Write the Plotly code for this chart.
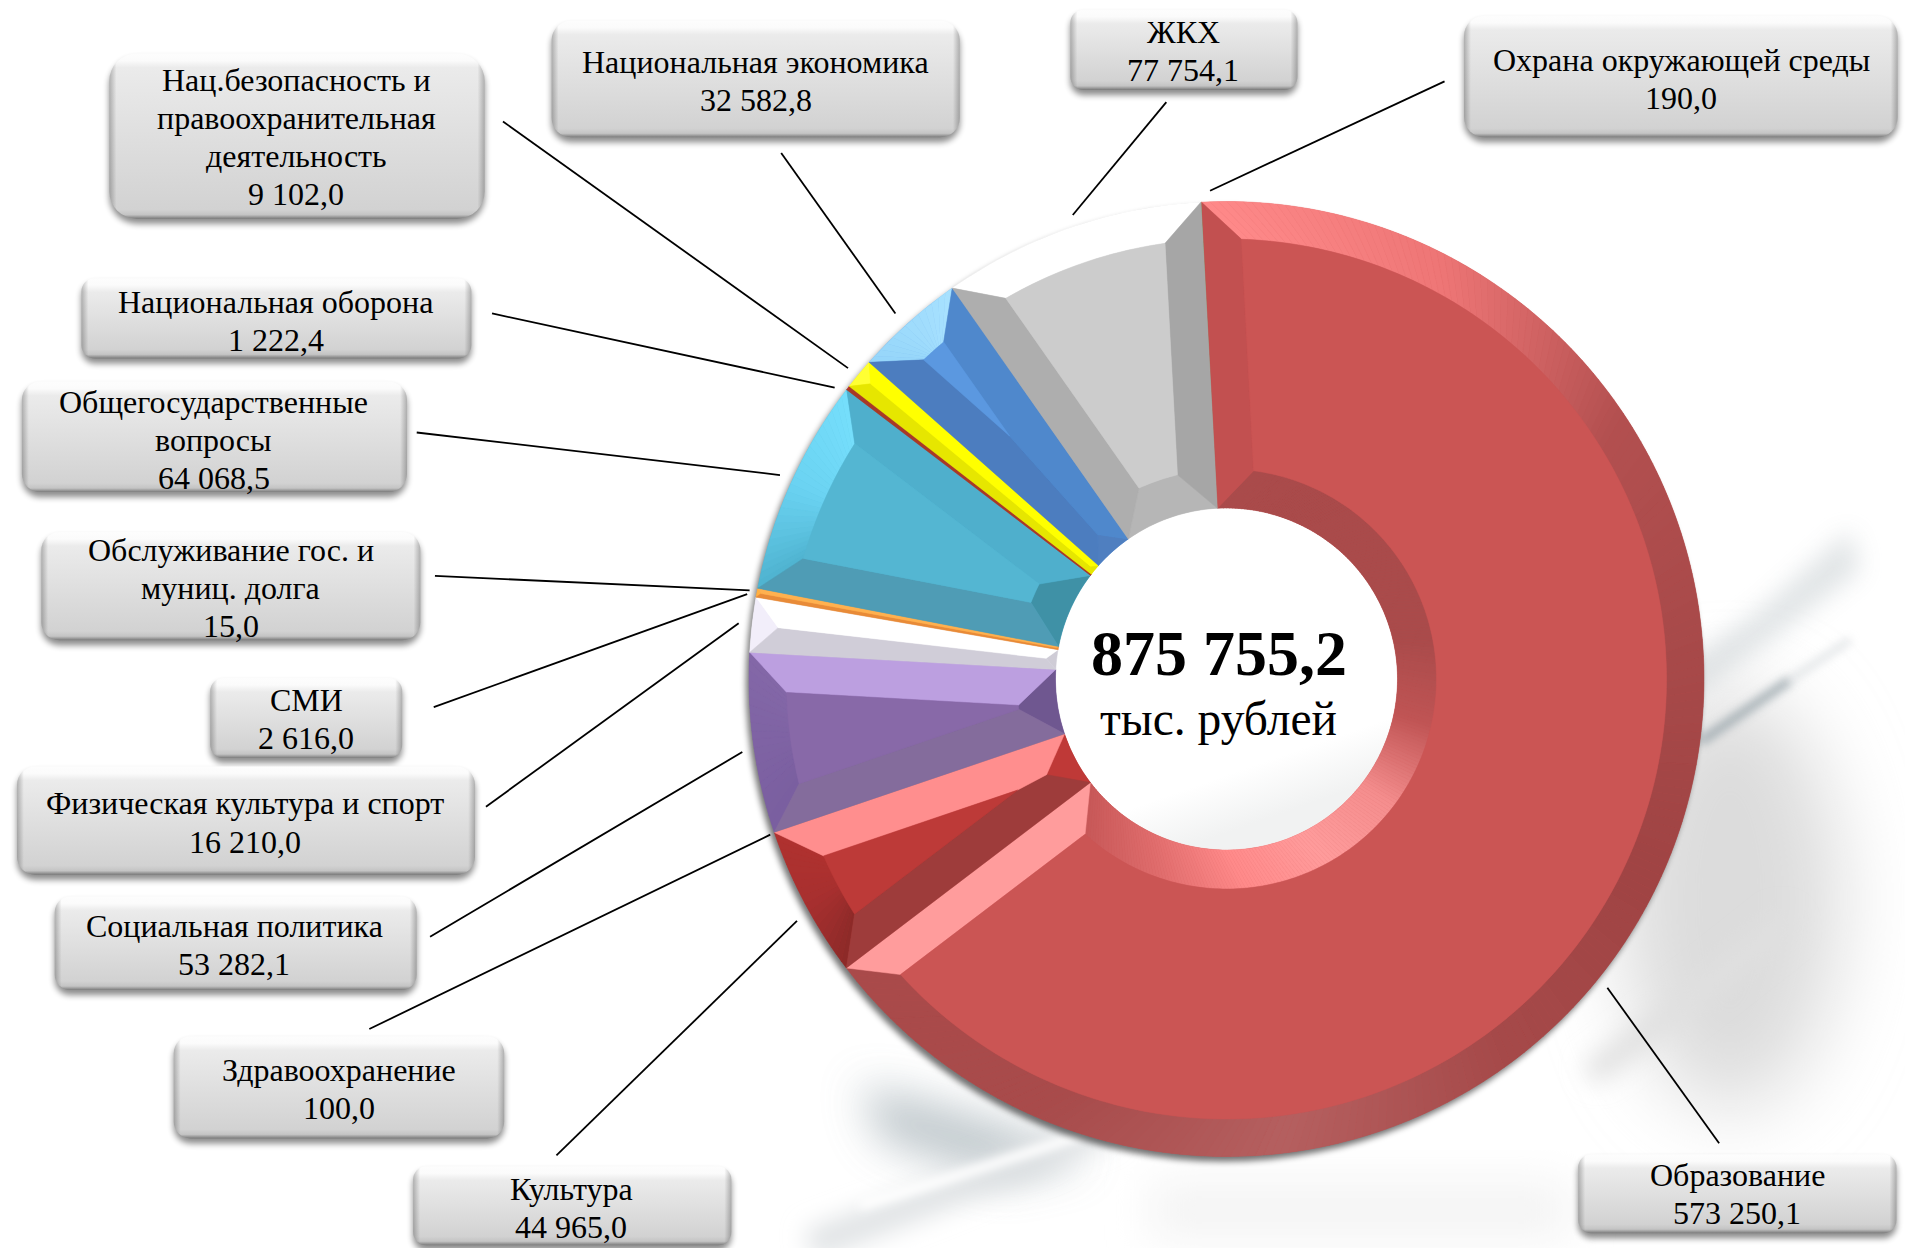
import base64
import math
import plotly.graph_objects as go

W, H = 1905, 1248
S = 1905 / 1568  # label layout below was measured on the 1568-wide view

# ---- data ----
categories = ["Образование", "Культура", "Здравоохранение", "Социальная политика",
              "Физическая культура и спорт", "СМИ", "Обслуживание гос. и муниц. долга",
              "Общегосударственные вопросы", "Национальная оборона",
              "Нац.безопасность и правоохранительная деятельность",
              "Национальная экономика", "ЖКХ", "Охрана окружающей среды"]
values = [573250.1, 44965.0, 100.0, 53282.1, 16210.0, 2616.0, 15.0,
          64068.5, 1222.4, 9102.0, 32582.8, 77754.1, 190.0]
total_label = "875 755,2"
unit_label = "тыс. рублей"
wrapped_names = ["Образование", "Культура", "Здравоохранение", "Социальная политика",
                 "Физическая культура и спорт", "СМИ", "Обслуживание гос. и<br>муниц. долга",
                 "Общегосударственные<br>вопросы", "Национальная оборона",
                 "Нац.безопасность и<br>правоохранительная<br>деятельность",
                 "Национальная экономика", "ЖКХ", "Охрана окружающей среды"]

# ---- slice styling: face, outer band, inner band, start side, end side ----
face_colors = ["#CB5554", "#BD3A38", "#70AD47", "#8869A8", "#FFFFFF", "#F79646", "#FFFFFF",
               "#54B6D2", "#C0392B", "#FFFF00", "#5B98E0", "#CCCCCC", "#70AD47"]
outer_colors = [["#FF8A8A", "#EE7676", "#B35050", "#A84A4A", "#A04444", "#A64A4A", "#B56060", "#A84C4C", "#AA4A4A"],
                ["#8C2A28", "#A83030", "#B0322F"], "#70AD47", ["#7A5FA0", "#8468A8"], "#F2EEFA", "#FFB040",
                "#FFFFFF", ["#4FB3D0", "#6BD3F2", "#76DFFC"], "#C0392B", "#FFFF33",
                ["#96D6FA", "#A8E2FF"], "#FFFFFF", "#70AD47"]
inner_colors = [["#A94B4B", "#A94B4B", "#A94B4B", "#A94B4B", "#C05555", "#F58E8E", "#FF9C9C", "#FF8A8A", "#E06D6D", "#C75858"],
                "#BF3937", "#70AD47", "#6F5790", "#CFCCD6", "#E88B38", "#FFFFFF", "#3F91A6",
                "#A83A28", "#E6E600", "#4F7FC0", "#B6B6B6", "#70AD47"]
start_colors = ["#C25050", "#9E3C3B", "#70AD47", "#846C9C", "#D0CDD8", "#E88B38", "#FFFFFF",
                "#4F9CB5", "#A83A28", "#E6E600", "#4C7DBF", "#AEAEAE", "#70AD47"]
end_colors = ["#FF9C9C", "#FF8E8E", "#70AD47", "#BC9FE0", "#FFFFFF", "#FFB14F", "#FFFFFF",
              "#4FAFCC", "#A83A28", "#FFFF00", "#4F88CC", "#A6A6A6", "#70AD47"]

# ---- label boxes on the 1568-wide view: left, right, top, bottom, text centre x, text centre y ----
box_order = [9, 10, 11, 12, 8, 7, 6, 5, 4, 3, 2, 1, 0]
box_left = [90, 454, 881, 1205, 67, 18, 34, 173, 14, 45, 143, 340, 1299]
box_right = [399, 790, 1068, 1562, 388, 335, 346, 331, 391, 343, 415, 602, 1561]
box_top = [44, 17, 8, 13, 229, 314, 438, 558, 631, 738, 853, 960, 950]
box_bottom = [180, 113, 74, 113, 295, 405, 527, 624, 720, 815, 937, 1025, 1015]
text_x = [244, 622, 974, 1384, 227, 176, 190, 252, 202, 193, 279, 470, 1430]
text_y = [113, 67, 42, 65, 264, 362, 484, 592, 677, 778, 896, 994, 983]
lead_x0 = [414, 643, 960, 1189, 405, 343, 358, 357, 400, 354, 304, 458, 1415]
lead_y0 = [100, 126, 84, 67, 258, 356, 474, 582, 664, 771, 847, 951, 941]
lead_x1 = [698, 737, 883, 996, 687, 642, 617, 615, 608, 611, 634, 656, 1323]
lead_y1 = [303, 258, 177, 157, 319, 391, 486, 489, 513, 619, 687, 758, 813]

CX, CY, R_O, R_I = 1226.5, 679.0, 477.5, 171.0
R_OF, R_IF, BEVEL = 440.0, 210.0, 38.0
ROTATION = -3.0
LINE_PITCH = 31.3


def pol(r, deg):
    a = math.radians(deg)
    return CX + r * math.sin(a), CY - r * math.cos(a)


def arc(r, a, b, step=1.0):
    n = max(1, int(abs(b - a) / step))
    return [pol(r, a + (b - a) * i / n) for i in range(n + 1)]


def hex_rgb(c):
    return tuple(int(c[i:i + 2], 16) for i in (1, 3, 5))


def ramp(stops, t):
    if isinstance(stops, str):
        return stops
    p = min(max(t, 0), 1) * (len(stops) - 1)
    i = min(int(p), len(stops) - 2)
    f = p - i
    a, b = hex_rgb(stops[i]), hex_rgb(stops[i + 1])
    return "rgb(%d,%d,%d)" % tuple(a[k] + (b[k] - a[k]) * f for k in range(3))


def poly(points, color):
    d = "M" + "L".join(f"{x / W:.5f},{1 - y / H:.5f}" for x, y in points) + "Z"
    return dict(type="path", xref="paper", yref="paper", path=d, fillcolor=color,
                line=dict(color=color, width=0.5), layer="above")


def band(shapes, r_a, a0, a1, r_b, b0, b1, stops):
    """Ring band between an arc at r_a and an arc at r_b, stepped when graded."""
    n = 1 if isinstance(stops, str) else max(2, int(a1 - a0))
    for i in range(n):
        t0, t1 = i / n, (i + 1) / n
        shapes.append(poly(
            arc(r_a, a0 + (a1 - a0) * t0, a0 + (a1 - a0) * t1)
            + arc(r_b, b0 + (b1 - b0) * t1, b0 + (b1 - b0) * t0),
            ramp(stops, (t0 + t1) / 2)))


def bevel_shapes():
    shapes = []
    tot = sum(values)
    ang = ROTATION
    for i, v in enumerate(values):
        span = v / tot * 360
        a0, a1 = ang, ang + span
        ang = a1
        if span < 0.2:
            continue
        half = span / 2
        mid = a0 + half
        sin_a = math.sin(math.radians(half))
        r_star = BEVEL / sin_a
        r_oa = R_O / (1 + sin_a)
        r_ia = R_I / (1 - sin_a)
        wide_out = r_star <= R_OF
        wide_in = r_star <= R_IF

        def inset(r):
            return math.degrees(math.asin(BEVEL / r))

        if wide_out:
            d = inset(R_OF)
            os_, oe_ = a0 + d, a1 - d
            band(shapes, R_O, a0, a1, R_OF, os_, oe_, outer_colors[i])
            o_s, o_e = pol(R_OF, os_), pol(R_OF, oe_)
        else:
            o_s = o_e = pol(r_oa, mid)
            c = outer_colors[i] if isinstance(outer_colors[i], str) else outer_colors[i][0]
            shapes.append(poly(arc(R_O, a0, a1) + [o_s], c))
        if wide_in:
            d = inset(R_IF)
            is_, ie_ = a0 + d, a1 - d
            band(shapes, R_I, a0, a1, R_IF, is_, ie_, inner_colors[i])
            i_s, i_e = pol(R_IF, is_), pol(R_IF, ie_)
        else:
            i_s = i_e = pol(r_ia, mid)
            c = inner_colors[i] if isinstance(inner_colors[i], str) else inner_colors[i][0]
            shapes.append(poly(arc(R_I, a0, a1) + [i_s], c))

        ridge = [pol(r_star, mid)] if (wide_out and not wide_in) else []
        shapes.append(poly([pol(R_O, a0), o_s] + ridge + [i_s, pol(R_I, a0)], start_colors[i]))
        shapes.append(poly([pol(R_O, a1), o_e] + ridge + [i_e, pol(R_I, a1)], end_colors[i]))
        if wide_out and wide_in:
            shapes.append(poly(arc(R_OF, os_, oe_) + arc(R_IF, ie_, is_), face_colors[i]))
        elif wide_out:
            shapes.append(poly(arc(R_OF, os_, oe_) + ridge, face_colors[i]))
    return shapes


def backdrop_svg():
    p = [f'<svg xmlns="http://www.w3.org/2000/svg" width="{W}" height="{H}" viewBox="0 0 {W} {H}">',
         '<defs>']
    for b in (3, 5, 12, 22, 40):
        p.append(f'<filter id="b{b}" x="-50%" y="-50%" width="200%" height="200%">'
                 f'<feGaussianBlur stdDeviation="{b}"/></filter>')
    p.append('<linearGradient id="hole" x1="0" y1="0" x2="0.35" y2="1">'
             '<stop offset="0.85" stop-color="#ffffff"/><stop offset="1" stop-color="#f1f2f2"/></linearGradient>')
    p.append('</defs><rect width="100%" height="100%" fill="#ffffff"/>')
    # soft swoosh behind the ring
    p.append('<ellipse cx="1730" cy="900" rx="110" ry="210" fill="#dcdcdc" filter="url(#b40)"/>')
    p.append('<path d="M1650 690 L1760 610 L1850 530 L1860 570 L1770 640 L1680 705Z" fill="#bcc4c8" opacity=".45" filter="url(#b12)"/>')
    p.append('<path d="M1700 742 L1790 680" stroke="#9aa6ac" stroke-width="9" fill="none" opacity=".85" filter="url(#b5)"/>')
    p.append('<path d="M1790 680 L1850 640" stroke="#d6dadd" stroke-width="7" fill="none" opacity=".7" filter="url(#b5)"/>')
    p.append('<path d="M1590 1075 Q1690 1000 1790 920" stroke="#e0e0e0" stroke-width="24" fill="none" filter="url(#b12)"/>')
    p.append('<path d="M860 1085 Q980 1110 1090 1160 L1000 1180 L880 1140Z" fill="#b4bec3" opacity=".85" filter="url(#b22)"/>')
    p.append('<path d="M810 1245 Q960 1190 1110 1125" stroke="#dfe2e4" stroke-width="30" fill="none" filter="url(#b12)"/>')
    p.append('<path d="M860 1205 Q980 1170 1110 1125" stroke="#ffffff" stroke-width="10" fill="none" filter="url(#b5)"/>')
    p.append('<rect x="1150" y="1180" width="420" height="60" fill="#f4f4f4" filter="url(#b22)"/>')
    # soft drop shadow under the ring, hole left clear
    p.append(f'<circle cx="{CX - 3}" cy="{CY + 5}" r="{R_O}" fill="#000000" opacity=".55" filter="url(#b3)"/>')
    p.append(f'<circle cx="{CX}" cy="{CY}" r="{R_I + 1}" fill="url(#hole)"/>')
    # label boxes
    for k in range(len(box_left)):
        x0, x1 = box_left[k] * S, box_right[k] * S
        y0, y1 = box_top[k] * S, box_bottom[k] * S
        w, h = x1 - x0, y1 - y0
        r = h * 0.1667
        p.append(f'<linearGradient id="v{k}" x1="0" y1="0" x2="0" y2="1">'
                 f'<stop offset="0" stop-color="#fdfdfd"/><stop offset="{7 / h:.3f}" stop-color="#fbfbfb"/>'
                 f'<stop offset="{14 / h:.3f}" stop-color="#ebebeb"/><stop offset="{1 - 9 / h:.3f}" stop-color="#d2d2d2"/>'
                 f'<stop offset="{1 - 4 / h:.3f}" stop-color="#c4c4c4"/><stop offset="1" stop-color="#7a7a7a"/></linearGradient>')
        p.append(f'<linearGradient id="h{k}" x1="0" y1="0" x2="1" y2="0">'
                 f'<stop offset="0" stop-color="#000" stop-opacity=".25"/><stop offset="{7 / w:.3f}" stop-color="#000" stop-opacity="0"/>'
                 f'<stop offset="{1 - 7 / w:.3f}" stop-color="#000" stop-opacity="0"/><stop offset="1" stop-color="#000" stop-opacity=".25"/></linearGradient>')
        p.append(f'<rect x="{x0:.1f}" y="{y0 + 5:.1f}" width="{w:.1f}" height="{h:.1f}" rx="{r:.1f}" fill="#000" opacity=".45" filter="url(#b3)"/>')
        p.append(f'<rect x="{x0:.1f}" y="{y0:.1f}" width="{w:.1f}" height="{h:.1f}" rx="{r:.1f}" fill="url(#v{k})"/>')
        p.append(f'<rect x="{x0:.1f}" y="{y0:.1f}" width="{w:.1f}" height="{h:.1f}" rx="{r:.1f}" fill="url(#h{k})"/>')
    p.append('</svg>')
    return "data:image/svg+xml;base64," + base64.b64encode("".join(p).encode()).decode()


def fmt(v):
    return f"{v:,.1f}".replace(",", " ").replace(".", ",")


fig = go.Figure(go.Pie(
    labels=categories, values=values, hole=R_I / R_O, sort=False, direction="clockwise",
    rotation=ROTATION, textinfo="none", marker=dict(colors=face_colors, line=dict(width=0)),
    showlegend=False, hovertemplate="%{label}<br>%{value}<extra></extra>",
    domain=dict(x=[(CX - R_O) / W, (CX + R_O) / W], y=[1 - (CY + R_O) / H, 1 - (CY - R_O) / H]),
))

shapes = bevel_shapes()
for k in range(len(lead_x0)):
    shapes.append(dict(type="line", xref="paper", yref="paper", layer="above",
                       x0=lead_x0[k] * S / W, y0=1 - lead_y0[k] * S / H,
                       x1=lead_x1[k] * S / W, y1=1 - lead_y1[k] * S / H,
                       line=dict(color="#000000", width=1.8)))

annotations = []
for k, idx in enumerate(box_order):
    lines = wrapped_names[idx].split("<br>") + [fmt(values[idx])]
    for j, line in enumerate(lines):
        y_mid = text_y[k] + (j - (len(lines) - 1) / 2) * LINE_PITCH
        annotations.append(dict(
            xref="paper", yref="paper", x=text_x[k] * S / W, y=1 - y_mid * S / H,
            xanchor="center", yanchor="middle", showarrow=False, align="center",
            text=line, font=dict(family="Liberation Serif", size=32, color="#000000")))
annotations.append(dict(xref="paper", yref="paper", x=1003 * S / W, y=1 - 538 * S / H,
                        xanchor="center", yanchor="middle", showarrow=False,
                        text=f"<b>{total_label}</b>",
                        font=dict(family="Liberation Serif", size=64, color="#000000")))
annotations.append(dict(xref="paper", yref="paper", x=1003 * S / W, y=1 - 592 * S / H,
                        xanchor="center", yanchor="middle", showarrow=False, text=unit_label,
                        font=dict(family="Liberation Serif", size=47.5, color="#000000")))

fig.update_layout(
    width=W, height=H, margin=dict(l=0, r=0, t=0, b=0), paper_bgcolor="#ffffff",
    shapes=shapes, annotations=annotations,
    images=[dict(source=backdrop_svg(), xref="paper", yref="paper", x=0, y=1, sizex=1, sizey=1,
                 xanchor="left", yanchor="top", sizing="stretch", layer="below")],
)
fig.write_html("out.html", config=dict(displayModeBar=False),
               post_script="document.body.style.margin='0';document.body.style.overflow='hidden';")
